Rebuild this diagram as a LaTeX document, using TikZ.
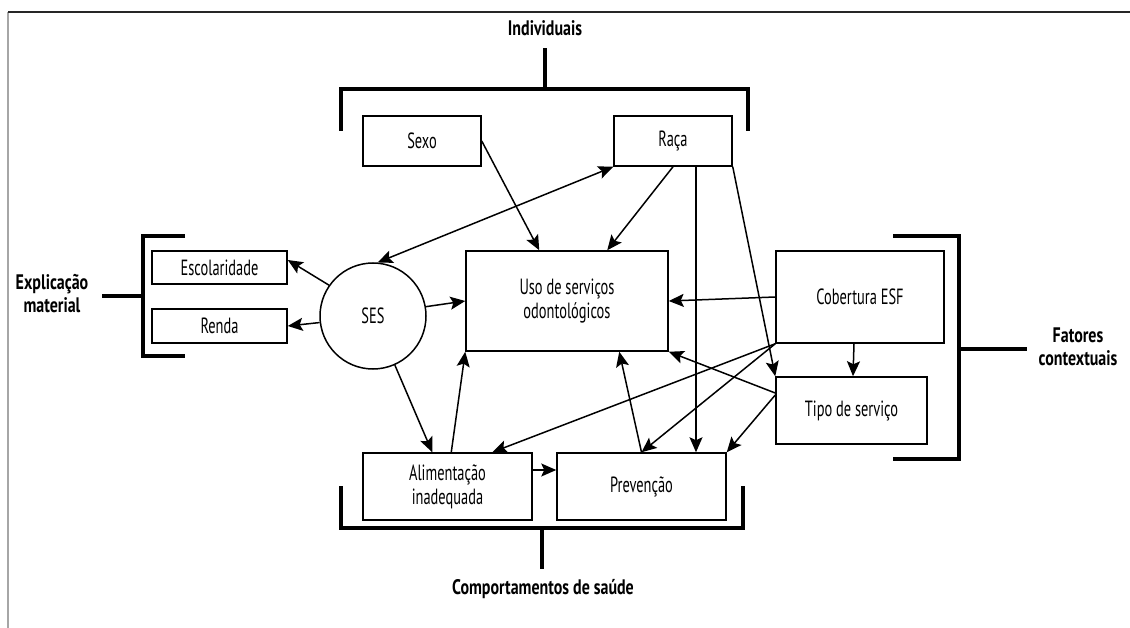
\documentclass[tikz,border=0pt]{standalone}
\usepackage{fontspec}
\setmainfont{PT Sans}[FakeStretch=0.655]
\newfontfamily\lblfont{PT Sans}[FakeStretch=0.76]
\usetikzlibrary{arrows.meta,calc}
\begin{document}
\begin{tikzpicture}[x=1pt,y=-1pt,
  box/.style={draw,line width=1.5pt,inner sep=0pt,align=center,font=\fontsize{22}{24}\selectfont},
  lbl/.style={align=center,font=\lblfont\bfseries\fontsize{21}{23}\selectfont},
  tip/.style={Stealth[length=15pt,width=13pt,inset=3pt]},
  arr/.style={line width=1.5pt,-{Stealth[length=15pt,width=13pt,inset=3pt]}},
  barr/.style={line width=1.5pt,{Stealth[length=15pt,width=13pt,inset=3pt]}-{Stealth[length=15pt,width=13pt,inset=3pt]}},
  brk/.style={line width=3.5pt,line cap=butt,line join=miter}]
\useasboundingbox (0,0) rectangle (1130,628);
% frame
\draw[gray!70,line width=1.5pt] (8,628) -- (8,12);
\draw[black!85,line width=1.3pt] (8,12) -- (1130,12);
% boxes
\node[box,minimum width=118pt,minimum height=50pt] (sexo) at (422,141) {Sexo};
\node[box,minimum width=118pt,minimum height=50pt] (raca) at (673,141) {Raça};
\node[box,minimum width=202pt,minimum height=100pt] (uso) at (567,301) {Uso de serviços\\odontológicos};
\node[box,minimum width=168pt,minimum height=92pt] (cob) at (860,297) {Cobertura ESF};
\node[box,minimum width=151pt,minimum height=67pt] (tipo) at (851.5,410.5) {Tipo de serviço};
\node[box,minimum width=135pt,minimum height=33pt] (esc) at (219.5,267.5) {Escolaridade};
\node[box,minimum width=135pt,minimum height=34pt] (renda) at (219.5,326) {Renda};
\node[box,circle,minimum size=106pt] (ses) at (373,316) {SES};
\node[box,minimum width=169pt,minimum height=67pt] (alim) at (447.5,486.5) {Alimentação\\inadequada};
\node[box,minimum width=169pt,minimum height=67pt] (prev) at (641.5,486.5) {Prevenção};
% labels
\node[lbl] (lind) at (545,28) {Individuais};
\node[lbl] (lexp) at (52,294) {Explicação\\material};
\node[lbl] (lfat) at (1078,347) {Fatores\\contextuais};
\node[lbl] (lcom) at (543,589) {Comportamentos de saúde};
% brackets
\draw[brk] (341,131) -- (341,89) -- (748,89) -- (748,131);
\draw[brk] (545,89) -- (545,48);
\draw[brk] (185,236) -- (143,236) -- (143,356) -- (185,356);
\draw[brk] (102,296) -- (143,296);
\draw[brk] (893,236) -- (959,236) -- (959,459) -- (893,459);
\draw[brk] (959,349) -- (1027,349);
\draw[brk] (341,486) -- (341,528) -- (743,528) -- (743,486);
\draw[brk] (542,528) -- (542,569);
% connectors
\draw[arr] (sexo.east) -- ([xshift=74pt]uso.north west);
\draw[arr] (raca.south) -- ([xshift=142pt]uso.north west);
\draw[barr] (raca.south west) -- (ses.85);
\draw[arr] ([xshift=23pt]raca.south) -- ([xshift=23pt]raca.south |- prev.north);
\draw[arr] (raca.south east) -- (tipo.north west);
\draw[arr] (ses.145) -- ([yshift=7.5pt]esc.east);
\draw[arr] (ses.187) -- (renda.east);
\draw[arr] (ses.10) -- (uso.west);
\draw[arr] (ses.-66) -- ([xshift=70pt]alim.north west);
\draw[arr] ([xshift=89pt]alim.north west) -- (uso.south west);
\draw[arr] (prev.north) -- ([xshift=154pt]uso.south west);
\draw[arr] ([yshift=16.5pt]alim.east) -- ([yshift=16.5pt]alim.east -| prev.west);
\draw[arr] (cob.west) -- (uso.east);
\draw[arr] ([xshift=-6pt]cob.south) -- ([xshift=1.5pt]tipo.north);
\draw[arr] (cob.south west) -- ([xshift=130pt]alim.north west);
\draw[arr] (cob.south west) -- (prev.north);
\draw[arr] ([yshift=17.5pt]tipo.west) -- (uso.south east);
\draw[arr] ([yshift=15.5pt]tipo.west) -- (prev.north east);
\end{tikzpicture}
\end{document}
